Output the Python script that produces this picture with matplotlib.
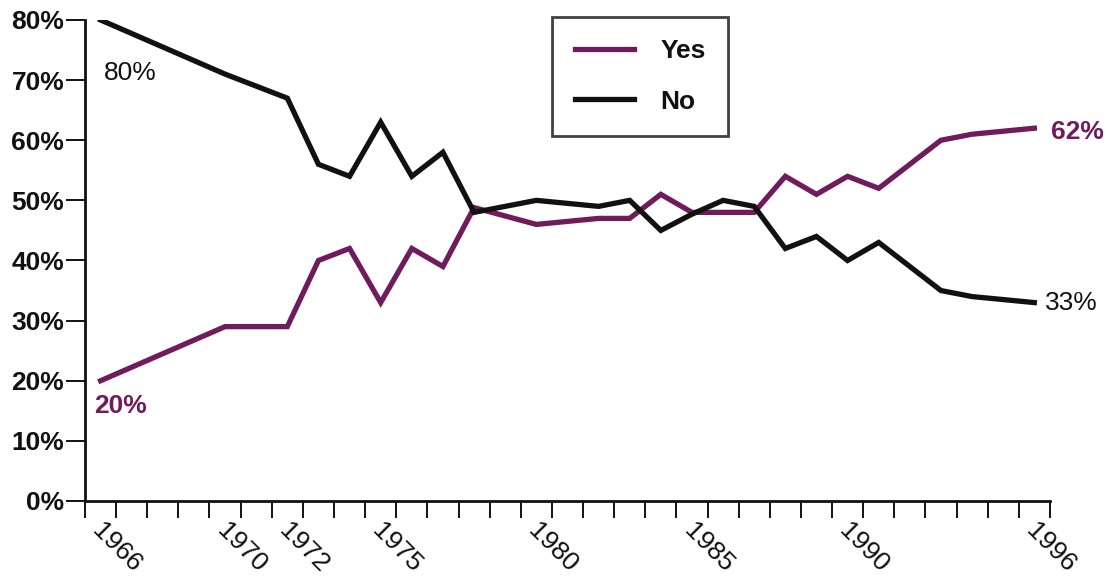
import matplotlib
matplotlib.use("Agg")
import matplotlib.pyplot as plt
import matplotlib.transforms as mtransforms
from matplotlib.ticker import FixedLocator, PercentFormatter

plt.rcParams['font.family'] = ['Liberation Sans', 'DejaVu Sans']

years = [1966, 1970, 1972, 1973, 1974, 1975, 1976, 1977, 1978, 1980, 1982,
         1983, 1984, 1985, 1986, 1987, 1988, 1989, 1990, 1991, 1993, 1994, 1996]
yes_vals = [20, 29, 29, 40, 42, 33, 42, 39, 48.8, 46, 47, 47, 51, 48, 48, 48,
            54, 51, 54, 52, 60, 61, 62]
no_vals = [80, 71, 67, 56, 54, 63, 54, 58, 48, 50, 49, 50, 45, 47.7, 50, 49,
           42, 44, 40, 43, 35, 34, 33]
first_year, last_year = 1966, 1996
label_years = [1966, 1970, 1972, 1975, 1980, 1985, 1990, 1996]
y_ticks = [0, 10, 20, 30, 40, 50, 60, 70, 80]
series_names = ["Yes", "No"]
end_labels = {"Yes": ("20%", "62%"), "No": ("80%", "33%")}

PURPLE = "#6f1b5c"
BLACK = "#111111"
FS = 19

fig = plt.figure(figsize=(11.11, 5.81), dpi=100)
ax = fig.add_axes([0.0765, 0.1377, 0.945 - 0.0765, 0.9656 - 0.1377])

xs = [y - first_year for y in years]
ax.plot(xs, yes_vals, color=PURPLE, lw=3.8, solid_joinstyle='miter', label=series_names[0])
ax.plot(xs, no_vals, color=BLACK, lw=3.8, solid_joinstyle='miter', label=series_names[1])

n = last_year - first_year + 1
ax.set_xlim(-0.5, n - 0.5)
ax.set_ylim(0, 80)

ax.spines['top'].set_visible(False)
ax.spines['right'].set_visible(False)
for s in ('left', 'bottom'):
    ax.spines[s].set_linewidth(2.0)
    ax.spines[s].set_color(BLACK)

ax.yaxis.set_major_locator(FixedLocator(y_ticks))
ax.yaxis.set_major_formatter(PercentFormatter(decimals=0))
ax.tick_params(axis='y', direction='out', length=14, width=1.4, pad=1,
               labelsize=FS, colors=BLACK)
for lab in ax.get_yticklabels():
    lab.set_fontweight('bold')

ax.xaxis.set_minor_locator(FixedLocator([i - 0.5 for i in range(n + 1)]))
ax.xaxis.set_major_locator(FixedLocator([y - first_year for y in label_years]))
ax.set_xticklabels([str(y) for y in label_years])
ax.tick_params(axis='x', which='minor', direction='out', length=12, width=1.4, colors=BLACK)
ax.tick_params(axis='x', which='major', length=0, pad=13, labelsize=FS, colors=BLACK)
offset = mtransforms.ScaledTranslation(4 / 100, 0, fig.dpi_scale_trans)
for lab in ax.get_xticklabels():
    lab.set_rotation(-45)
    lab.set_ha('left')
    lab.set_va('top')
    lab.set_rotation_mode('anchor')
    lab.set_transform(lab.get_transform() + offset)

# end labels
ax.annotate(end_labels["No"][0], (xs[0], no_vals[0]), xytext=(3, -53),
            textcoords='offset pixels', fontsize=FS, color=BLACK, va='center', ha='left')
ax.annotate(end_labels["Yes"][0], (xs[0], yes_vals[0]), xytext=(-6, -25),
            textcoords='offset pixels', fontsize=FS, color=PURPLE, va='center', ha='left',
            fontweight='bold')
ax.annotate(end_labels["Yes"][1], (xs[-1], yes_vals[-1]), xytext=(17, -4),
            textcoords='offset pixels', fontsize=FS, color=PURPLE, va='center', ha='left',
            fontweight='bold')
ax.annotate(end_labels["No"][1], (xs[-1], no_vals[-1]), xytext=(11, 0),
            textcoords='offset pixels', fontsize=FS, color=BLACK, va='center', ha='left')

leg = fig.legend(loc='upper left', bbox_to_anchor=(0.497, 0.971),
                 prop={'weight': 'bold', 'size': FS}, frameon=True, fancybox=False,
                 edgecolor=BLACK, borderpad=0.85, labelspacing=1.0, handlelength=2.25,
                 handletextpad=1.0, borderaxespad=0)
leg.get_frame().set_linewidth(2.0)
for t in leg.get_texts():
    t.set_color(BLACK)

fig.savefig("out.png", dpi=100, facecolor='white')
